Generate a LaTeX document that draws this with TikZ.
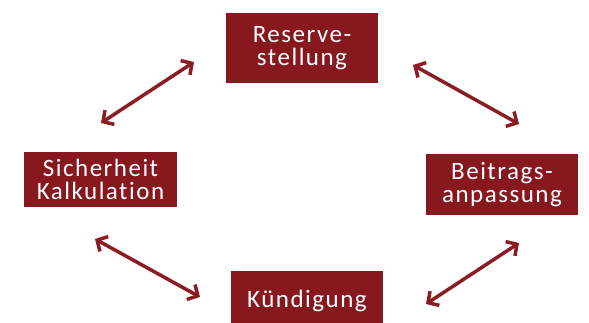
\documentclass[tikz,border=0pt]{standalone}
\usepackage{fontspec}
\setmainfont{Carlito}[LetterSpace=6,Ligatures={NoCommon}]
\usetikzlibrary{arrows.meta}
\definecolor{boxred}{RGB}{134,24,30}
\definecolor{arrred}{RGB}{139,28,36}
\tikzset{
  box/.style={fill=boxred, text=white, inner sep=0pt, align=center,
    font=\fontsize{25}{23}\selectfont},
  link/.style={draw=arrred, line width=3.5pt,
    {Straight Barb[length=8pt,width=17pt,line width=3.5pt]}-{Straight Barb[length=8pt,width=17pt,line width=3.5pt]}}
}
\begin{document}
\begin{tikzpicture}[x=1pt,y=1pt]
\useasboundingbox (0,0) rectangle (589,-322);
\clip (0,0) rectangle (589,-322);
\node[box, minimum width=152pt, minimum height=70pt] (res) at (302,-48) {Reserve-\\stellung};
\node[box, minimum width=153pt, minimum height=55pt] (sich) at (100.5,-179.5) {Sicherheit\\Kalkulation};
\node[box, minimum width=152pt, minimum height=61pt] (beit) at (502,-184.5) {Beitrags-\\anpassung};
\node[box, minimum width=152pt, minimum height=60pt] (kuend) at (307,-301) {Kündigung};
\coordinate (a1) at (101,-123); \coordinate (a2) at (194,-62);
\coordinate (b1) at (413,-65); \coordinate (b2) at (519,-124);
\coordinate (c1) at (95,-239); \coordinate (c2) at (200,-297);
\coordinate (d1) at (426,-304); \coordinate (d2) at (519,-243);
\draw[link] (a1) -- (a2);
\draw[link] (b1) -- (b2);
\draw[link] (c1) -- (c2);
\draw[link] (d1) -- (d2);
\end{tikzpicture}
\end{document}
